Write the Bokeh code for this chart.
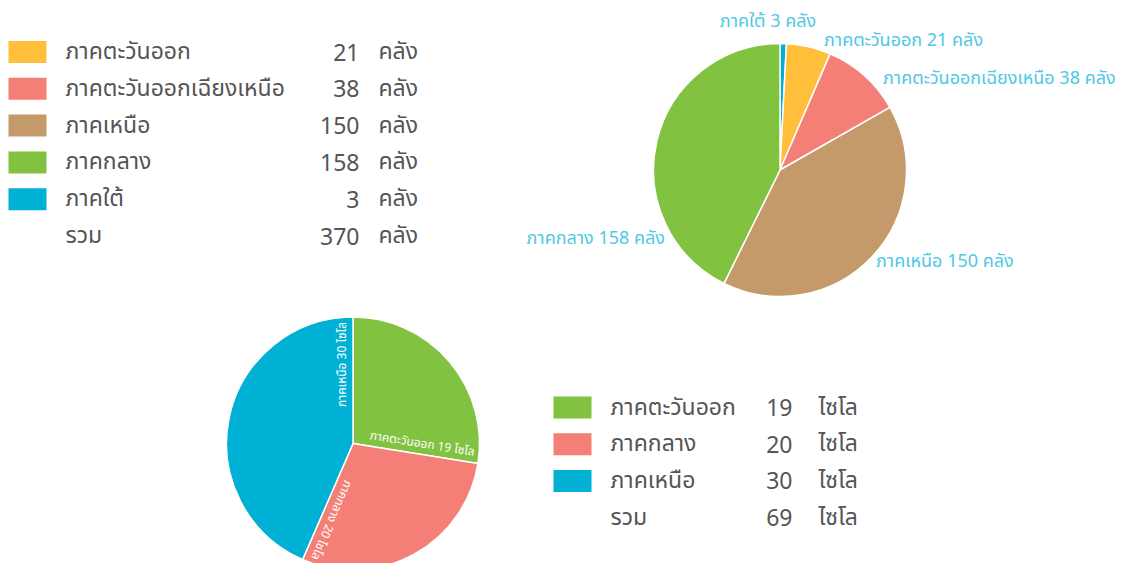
import math
from bokeh.plotting import figure
from bokeh.models import Range1d, ColumnDataSource
from bokeh.core.properties import value
from bokeh.embed import file_html
from bokeh.resources import INLINE

# ---------------- data ----------------
regions1 = ["ภาคตะวันออก", "ภาคตะวันออกเฉียงเหนือ", "ภาคเหนือ", "ภาคกลาง", "ภาคใต้"]
values1 = [21, 38, 150, 158, 3]
colors1 = ["#FFBF3B", "#F37F76", "#C59A6B", "#82C241", "#00B1D5"]
unit1 = "คลัง"
total_label = "รวม"
pie_order1 = [4, 0, 1, 2, 3]  # clockwise from 12 o'clock

regions2 = ["ภาคตะวันออก", "ภาคกลาง", "ภาคเหนือ"]
values2 = [19, 20, 30]
colors2 = ["#82C241", "#F37F76", "#00B1D5"]
unit2 = "ไซโล"

FONT = "Noto Sans Thai, Noto Sans Thai UI, Noto Sans, sans-serif"
TEXT_COLOR = "#555555"
LABEL_COLOR = "#4EC8E4"

W, H = 1132, 563
def Y(img_y):
    return H - img_y

p = figure(width=W, height=H, output_backend="svg", toolbar_location=None,
           x_range=Range1d(0, W), y_range=Range1d(0, H),
           min_border=0, outline_line_color=None)
p.axis.visible = False
p.grid.visible = False
p.background_fill_color = "white"

# ---------------- pie 1 ----------------
cx1, cy1, r1 = 779.5, Y(169.5), 126.5
tot1 = sum(values1)
starts, ends, cols = [], [], []
cum = 0.0
for i in pie_order1:
    a0 = cum / tot1 * 2 * math.pi
    cum += values1[i]
    a1 = cum / tot1 * 2 * math.pi
    starts.append(math.pi / 2 - a1)
    ends.append(math.pi / 2 - a0)
    cols.append(colors1[i])
src1 = ColumnDataSource(dict(x=[cx1] * len(starts), y=[cy1] * len(starts),
                             s=starts, e=ends, c=cols))
p.wedge(x="x", y="y", radius=r1, start_angle="s", end_angle="e", fill_color="c",
        line_color="white", line_width=1.5, source=src1)

# outer labels for pie 1 (layout offsets relative to pie centre)
lab_layout1 = {
    4: (-12, 148.5, "center"),  # ใต้
    0: (44, 129.5, "left"),     # ตะวันออก
    1: (103, 91.5, "left"),     # ตอฉน
    2: (96, -91.5, "left"),     # เหนือ
    3: (-115, -68.5, "right"),  # กลาง
}
for i in pie_order1:
    dx, dy, al = lab_layout1[i]
    p.text(x=[cx1 + dx], y=[cy1 + dy], text=[f"{regions1[i]} {values1[i]} {unit1}"],
           text_font=value(FONT), text_font_size="18px", text_color=LABEL_COLOR,
           text_align=al, text_baseline="middle")

# ---------------- pie 2 ----------------
cx2, cy2, r2 = 352.5, Y(443), 126.5
tot2 = sum(values2)
starts2, ends2 = [], []
cum = 0.0
for i in range(len(values2)):
    a0 = cum / tot2 * 2 * math.pi
    cum += values2[i]
    a1 = cum / tot2 * 2 * math.pi
    starts2.append(math.pi / 2 - a1)
    ends2.append(math.pi / 2 - a0)
src2 = ColumnDataSource(dict(x=[cx2] * 3, y=[cy2] * 3, s=starts2, e=ends2, c=colors2))
p.wedge(x="x", y="y", radius=r2, start_angle="s", end_angle="e", fill_color="c",
        line_color="white", line_width=1.5, source=src2)

# inner rotated labels along each slice's closing edge
for i in range(len(values2)):
    phi = starts2[i]
    ux, uy = math.cos(phi), math.sin(phi)
    px, py = -uy, ux  # perpendicular (towards the slice)
    ax = cx2 + (r2 - 5) * ux + 2 * px
    ay = cy2 + (r2 - 5) * uy + 2 * py
    p.text(x=[ax], y=[ay], text=[f"{regions2[i]} {values2[i]} {unit2}"], angle=phi,
           text_font=value(FONT), text_font_size="12px", text_color="white",
           text_align="right", text_baseline="bottom")

# ---------------- legend tables ----------------
def table(x_sq, x_lab, x_num, x_unit, y0, dy, names, vals, colors, unit, size):
    n = len(names)
    ys = [Y(y0 + k * dy) for k in range(n + 1)]
    p.rect(x=[x_sq + 19] * n, y=ys[:n], width=38, height=22, fill_color=colors,
           line_color=None)
    p.text(x=[x_lab] * (n + 1), y=ys, text=names + [total_label],
           text_font=value(FONT), text_font_size=size, text_color=TEXT_COLOR,
           text_align="left", text_baseline="middle")
    p.text(x=[x_num] * (n + 1), y=ys, text=[str(v) for v in vals] + [str(sum(vals))],
           text_font=value(FONT), text_font_size=size, text_color=TEXT_COLOR,
           text_align="right", text_baseline="middle")
    p.text(x=[x_unit] * (n + 1), y=ys, text=[unit] * (n + 1),
           text_font=value(FONT), text_font_size=size, text_color=TEXT_COLOR,
           text_align="left", text_baseline="middle")

table(8, 65, 359, 378, 51.5, 36.8, regions1, values1, colors1, unit1, "23px")
table(553, 610, 792, 818, 407, 36.7, regions2, values2, colors2, unit2, "23px")

open("out.html", "w").write(file_html(p, INLINE))
